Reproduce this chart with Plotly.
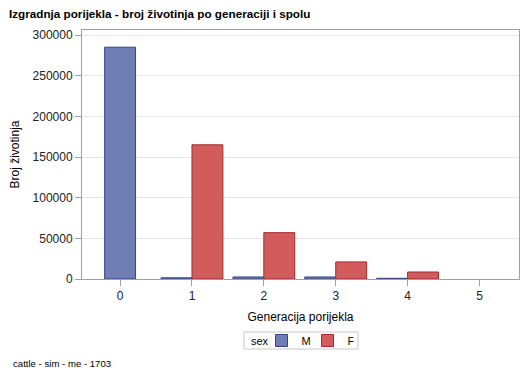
import plotly.graph_objects as go

generations = [0, 1, 2, 3, 4, 5]
gen_labels = ["0", "1", "2", "3", "4", "5"]
males = [285000, 1500, 2500, 2500, 900, None]
females = [None, 165000, 57000, 21000, 8600, None]
y_ticks = [0, 50000, 100000, 150000, 200000, 250000, 300000]

BW = 0.43
# cluster offsets: a group present alone is centred on its category
m_offset = [-BW / 2 if not f else -BW for f in females]
f_offset = [0.0 if m else -BW / 2 for m in males]

fig = go.Figure()
fig.add_trace(go.Bar(
    name="M", x=generations, y=males, width=BW, offset=m_offset,
    marker=dict(color="#6f7eb5", line=dict(color="#34448a", width=1)),
))
fig.add_trace(go.Bar(
    name="F", x=generations, y=females, width=BW, offset=f_offset,
    marker=dict(color="#d25b5b", line=dict(color="#a02c2c", width=1)),
))

font = "Liberation Sans, Arial, sans-serif"
PW, PH, L, T = 437, 249, 82, 30
px = lambda x: (x - L) / PW
py = lambda y: (T + PH - y) / PH

fig.update_layout(
    width=529, height=378,
    margin=dict(l=82, r=10, t=30, b=99),
    paper_bgcolor="white", plot_bgcolor="white",
    barmode="overlay",
    font=dict(family=font, size=12, color="#000000"),
    title=dict(text="<b>Izgradnja porijekla - broj životinja po generaciji i spolu</b>",
               x=9 / 529, xanchor="left", xref="container",
               y=1 - 14 / 378, yanchor="middle", yref="container",
               font=dict(family=font, size=11.7, color="#000000")),
    xaxis=dict(range=[-0.53, 5.55], tickmode="array", tickvals=generations,
               ticktext=gen_labels, showgrid=False, zeroline=False,
               showline=True, linecolor="#a0a0a0", linewidth=1, mirror=True,
               ticks="outside", ticklen=6, tickcolor="#a0a0a0", automargin=False,
               title=dict(text="Generacija porijekla", font=dict(size=12), standoff=10),
               tickfont=dict(size=12, color="#222222")),
    yaxis=dict(range=[0, 306150], tickmode="array", tickvals=y_ticks,
               ticktext=[str(v) for v in y_ticks],
               showgrid=True, gridcolor="#e6e6e6", zeroline=False,
               showline=True, linecolor="#a0a0a0", linewidth=1, mirror=True,
               ticks="outside", ticklen=6, tickcolor="#a0a0a0", automargin=False,
               title=dict(text="Broj životinja", font=dict(size=12), standoff=10),
               tickfont=dict(size=12, color="#222222")),
    legend=dict(orientation="h", x=px(261.5), xanchor="left", y=py(340.5), yanchor="middle",
                bgcolor="rgba(0,0,0,0)", borderwidth=0, entrywidth=1,
                font=dict(size=11), itemwidth=30, traceorder="normal",
                tracegroupgap=0),
    showlegend=True,
)
fig.add_shape(type="rect", xref="paper", yref="paper",
              x0=px(244), x1=px(358), y0=py(349), y1=py(332),
              line=dict(color="#c8c8c8", width=1), fillcolor="rgba(0,0,0,0)", layer="above")
fig.add_annotation(text="sex", xref="paper", yref="paper", x=px(249), y=py(340.5),
                   xanchor="left", yanchor="middle", showarrow=False,
                   font=dict(size=11, color="#000000"))
fig.add_annotation(text="cattle - sim - me - 1703", xref="paper", yref="paper",
                   x=px(11), y=py(363), xanchor="left",
                   yanchor="middle", showarrow=False, font=dict(size=9.6, color="#000000"))

fig.write_html("out.html", config={"displayModeBar": False},
               post_script="document.body.style.margin='0';")
